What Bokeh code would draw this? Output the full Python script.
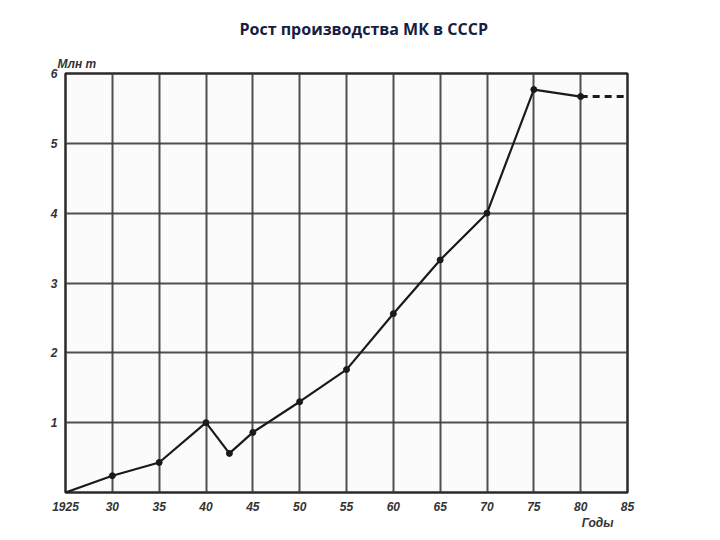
from bokeh.plotting import figure
from bokeh.models import Range1d, FixedTicker, Title
from bokeh.embed import file_html
from bokeh.resources import INLINE

title_text = "Рост производства МК в СССР"
y_unit_label = "Млн т"
x_unit_label = "Годы"

years = [1925, 1930, 1935, 1940, 1942.5, 1945, 1950, 1955, 1960, 1965, 1970, 1975, 1980]
output_mt = [0.0, 0.24, 0.43, 1.0, 0.56, 0.86, 1.30, 1.76, 2.56, 3.33, 4.0, 5.77, 5.67]
forecast_years = [1980, 1985]
forecast_mt = [5.67, 5.67]

x_ticks = [1925, 1930, 1935, 1940, 1945, 1950, 1955, 1960, 1965, 1970, 1975, 1980, 1985]
x_tick_labels = ["1925", "30", "35", "40", "45", "50", "55", "60", "65", "70", "75", "80", "85"]
y_ticks = [0, 1, 2, 3, 4, 5, 6]
y_tick_labels = ["", "1", "2", "3", "4", "5", "6"]

p = figure(width=712, height=532, output_backend="svg", toolbar_location=None,
           x_range=Range1d(1925, 1985), y_range=Range1d(0, 6),
           min_border_left=65, min_border_right=85, min_border_top=73, min_border_bottom=40)

p.background_fill_color = "#fbfbfb"
p.border_fill_color = "white"
p.outline_line_color = "#2a2a2a"
p.outline_line_width = 2.5

for ax in (p.xaxis, p.yaxis):
    ax.axis_line_color = None
    ax.major_tick_line_color = None
    ax.minor_tick_line_color = None
    ax.major_label_text_font = "Liberation Sans"
    ax.major_label_text_font_style = "bold italic"
    ax.major_label_text_font_size = "12px"
    ax.major_label_text_color = "#333333"

p.xaxis.ticker = FixedTicker(ticks=x_ticks)
p.xaxis.major_label_overrides = {t: l for t, l in zip(x_ticks, x_tick_labels)}
p.xaxis.major_label_standoff = 3
p.yaxis.ticker = FixedTicker(ticks=y_ticks)
p.yaxis.major_label_overrides = {t: l for t, l in zip(y_ticks, y_tick_labels)}
p.yaxis.major_label_standoff = 2

p.xgrid.ticker = FixedTicker(ticks=x_ticks)
p.ygrid.ticker = FixedTicker(ticks=y_ticks)
for g in (p.xgrid, p.ygrid):
    g.grid_line_color = "#3c3c3c"
    g.grid_line_width = 2
    g.grid_line_alpha = 0.9

p.line(years, output_mt, line_color="#1a1a1a", line_width=2.2)
p.scatter(years[1:], output_mt[1:], size=6, fill_color="#1a1a1a", line_color="#1a1a1a")
p.line(forecast_years, forecast_mt, line_color="#1a1a1a", line_width=3, line_dash="7 5")

p.title.text = title_text
p.title.align = "left"
p.title.offset = 174
p.title.text_font = "Open Sans"
p.title.text_font_size = "16px"
p.title.text_font_style = "bold"
p.title.text_color = "#14203f"
p.title.standoff = 26

p.add_layout(Title(text=y_unit_label, align="left", offset=-8, standoff=5,
                   text_font="Liberation Sans", text_font_style="bold italic",
                   text_font_size="12px", text_color="#333333"), "above")
p.add_layout(Title(text=x_unit_label, align="right", offset=14, standoff=0,
                   text_font="Liberation Sans", text_font_style="bold italic",
                   text_font_size="12px", text_color="#333333"), "below")

open("out.html", "w").write(file_html(p, INLINE))
